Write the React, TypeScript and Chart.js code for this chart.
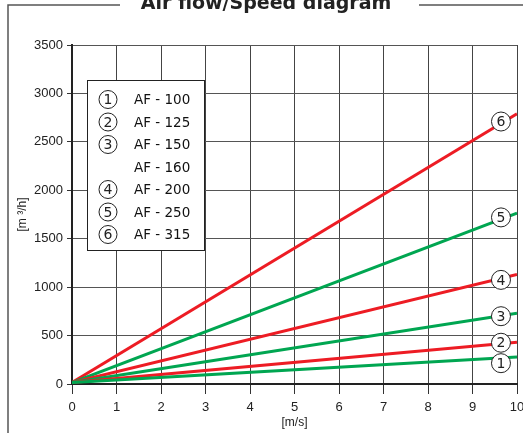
import { useEffect, useRef } from 'react';
import { Chart, registerables } from 'chart.js';

Chart.register(...registerables);

// ---- data ----
const speedValues = [0, 10]; // m/s
const flowAF100 = [15, 280];
const flowAF125 = [15, 430];
const flowAF150_160 = [15, 730];
const flowAF200 = [15, 1130];
const flowAF250 = [15, 1765];
const flowAF315 = [15, 2790];

const lineNumbers = ['1', '2', '3', '4', '5', '6'];
const lineColors = ['#00a651', '#ed1c24', '#00a651', '#ed1c24', '#00a651', '#ed1c24'];
const lineSeries = [flowAF100, flowAF125, flowAF150_160, flowAF200, flowAF250, flowAF315];

// circle label anchors (data units)
const labelSpeed = 9.64;
const labelFlows = [215, 426, 700, 1075, 1720, 2710];

const legendNumbers = ['1', '2', '3', '', '4', '5', '6'];
const legendNames = ['AF - 100', 'AF - 125', 'AF - 150', 'AF - 160', 'AF - 200', 'AF - 250', 'AF - 315'];

const xTicks = [0, 1, 2, 3, 4, 5, 6, 7, 8, 9, 10];
const yTicks = [0, 500, 1000, 1500, 2000, 2500, 3000, 3500];

const titleText = 'Air flow/Speed diagram';
const xTitle = '[m/s]';
const yTitle = '[m \u00b3/h]';

function circleNum(ctx: CanvasRenderingContext2D, x: number, y: number, r: number, txt: string) {
  ctx.save();
  ctx.beginPath();
  ctx.arc(x, y, r, 0, Math.PI * 2);
  ctx.fillStyle = '#ffffff';
  ctx.fill();
  ctx.lineWidth = 1;
  ctx.strokeStyle = '#222';
  ctx.stroke();
  ctx.fillStyle = '#222';
  ctx.font = '14px "DejaVu Sans"';
  ctx.textAlign = 'center';
  ctx.textBaseline = 'middle';
  ctx.fillText(txt, x, y + 1);
  ctx.restore();
}

const decorPlugin = {
  id: 'decor',
  afterDatasetsDraw(chart: any) {
    const ctx: CanvasRenderingContext2D = chart.ctx;
    const xs = chart.scales.x;
    const ys = chart.scales.y;
    for (let i = 0; i < lineNumbers.length; i++) {
      circleNum(ctx, xs.getPixelForValue(labelSpeed), ys.getPixelForValue(labelFlows[i]), 9.5, lineNumbers[i]);
    }
    ctx.save();
    ctx.fillStyle = '#ffffff';
    ctx.fillRect(87.5, 80.5, 117, 170);
    ctx.strokeStyle = '#222';
    ctx.lineWidth = 1;
    ctx.strokeRect(87.5, 80.5, 117, 170);
    for (let i = 0; i < legendNames.length; i++) {
      const y = 99.5 + i * 22.5;
      if (legendNumbers[i]) circleNum(ctx, 108, y, 9, legendNumbers[i]);
      ctx.fillStyle = '#111';
      ctx.font = '13.5px "DejaVu Sans"';
      ctx.textAlign = 'left';
      ctx.textBaseline = 'middle';
      ctx.fillText(legendNames[i], 134, y + 1);
    }
    ctx.restore();
  },
  afterDraw(chart: any) {
    const ctx: CanvasRenderingContext2D = chart.ctx;
    ctx.save();
    ctx.strokeStyle = '#555';
    ctx.lineWidth = 1.5;
    ctx.beginPath();
    ctx.moveTo(8, 433);
    ctx.lineTo(8, 5);
    ctx.lineTo(120, 5);
    ctx.moveTo(419, 5);
    ctx.lineTo(523, 5);
    ctx.stroke();
    ctx.fillStyle = '#222';
    ctx.font = 'bold 19px "DejaVu Sans"';
    ctx.textAlign = 'center';
    ctx.textBaseline = 'alphabetic';
    ctx.fillText(titleText, 266, 9);
    ctx.restore();
  },
};

export default function App() {
  const ref = useRef<HTMLCanvasElement>(null);
  useEffect(() => {
    if (!ref.current) return;
    const chart = new Chart(ref.current, {
      type: 'line',
      data: {
        datasets: lineSeries.map((s, i) => ({
          label: lineNumbers[i],
          data: s.map((v, j) => ({ x: speedValues[j], y: v })),
          borderColor: lineColors[i],
          backgroundColor: lineColors[i],
          borderWidth: 3,
          pointRadius: 0,
          tension: 0,
        })),
      },
      options: {
        responsive: false,
        animation: false,
        layout: { padding: { top: 45, right: 6, left: 0, bottom: 0 } },
        plugins: { legend: { display: false }, tooltip: { enabled: false }, title: { display: false } },
        scales: {
          x: {
            type: 'linear',
            min: 0,
            max: 10,
            afterBuildTicks: (s: any) => { s.ticks = xTicks.map((v) => ({ value: v })); },
            ticks: { color: '#222', font: { family: 'Liberation Sans', size: 13 }, padding: 6, maxRotation: 0, autoSkip: false, callback: (v: any) => String(v) },
            grid: { color: '#444', tickColor: '#333', tickLength: 10, lineWidth: 1 },
            border: { color: '#222', width: 2 },
            title: { display: true, text: xTitle, color: '#222', font: { family: 'Liberation Sans', size: 12 }, padding: { top: 0, bottom: 3 } },
            afterFit: (s: any) => { s.height = 49; s.paddingLeft = 0; s.paddingRight = 0; },
          },
          y: {
            type: 'linear',
            min: 0,
            max: 3500,
            afterBuildTicks: (s: any) => { s.ticks = yTicks.map((v) => ({ value: v })); },
            ticks: { color: '#222', font: { family: 'Liberation Sans', size: 13 }, padding: 4, autoSkip: false, callback: (v: any) => String(v) },
            grid: { color: '#555', tickColor: '#333', tickLength: 5, lineWidth: 1 },
            border: { color: '#222', width: 2 },
            title: { display: true, text: yTitle, color: '#222', font: { family: 'Liberation Sans', size: 12 }, padding: { top: 15, bottom: 0 } },
            afterFit: (s: any) => { s.width = 72; s.paddingTop = 0; s.paddingBottom = 0; },
          },
        },
      },
      plugins: [decorPlugin],
    } as any);
    return () => chart.destroy();
  }, []);
  return (
    <div style={{ position: 'fixed', left: 0, top: 0, width: 523, height: 433, background: '#fff' }}>
      <canvas ref={ref} width={523} height={433} style={{ display: 'block' }} />
    </div>
  );
}
